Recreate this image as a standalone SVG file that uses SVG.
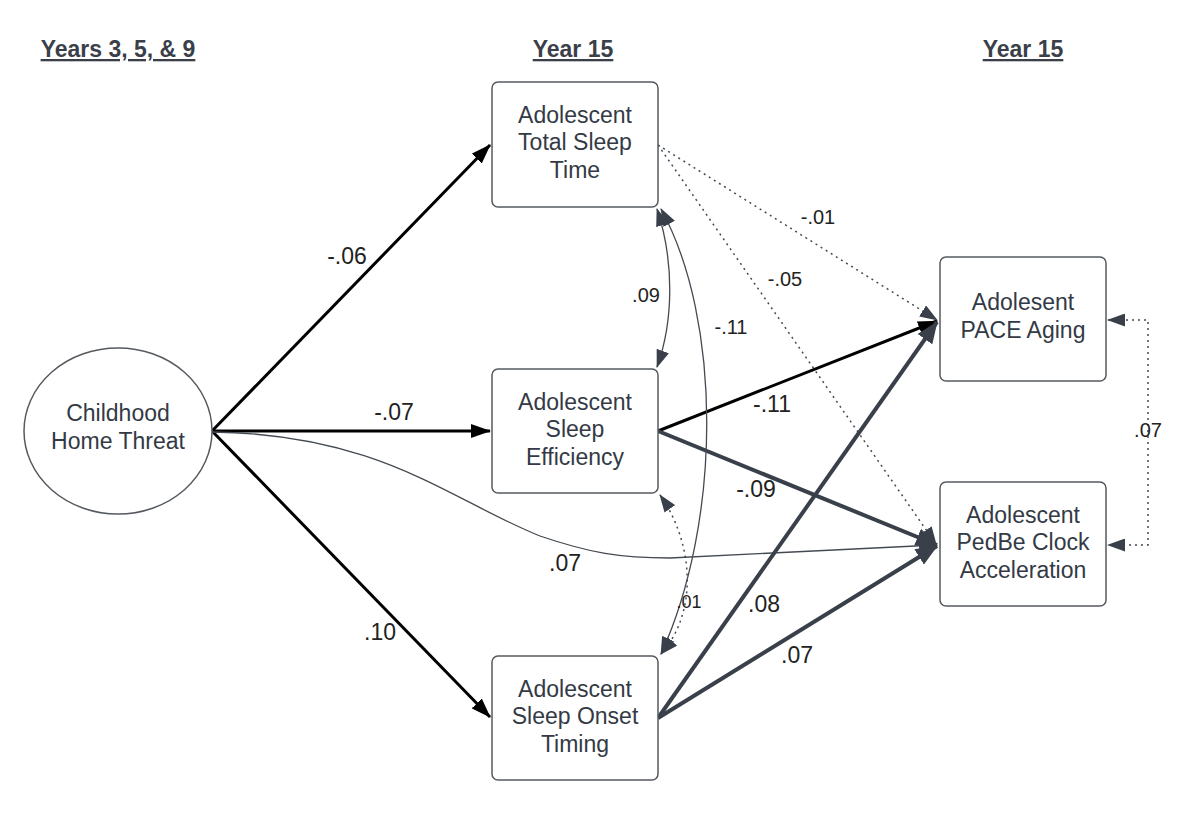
<svg xmlns="http://www.w3.org/2000/svg" width="1200" height="817" viewBox="0 0 1200 817">
<style>
.node rect{fill:#fff;stroke:#555a60;stroke-width:1.5}
.node ellipse{fill:#fff;stroke:#555a60;stroke-width:1.5}
.nt{font-family:"Liberation Sans",Arial,sans-serif;font-size:23px;fill:#333a45;text-anchor:middle}
.hd{font-family:"Liberation Sans",Arial,sans-serif;font-size:23px;font-weight:bold;fill:#3a3f4a;text-anchor:middle;text-decoration:underline}
.lb{font-family:"Liberation Sans",Arial,sans-serif;font-size:23px;fill:#222;text-anchor:middle}
.sm{font-family:"Liberation Sans",Arial,sans-serif;font-size:20px;fill:#222;text-anchor:middle}
.blk{fill:none;stroke:#000;stroke-width:3}
.gry{fill:none;stroke:#3a404a;stroke-width:4}
.thin{fill:none;stroke:#444a52;stroke-width:1.3}
.dot{fill:none;stroke:#444a52;stroke-width:1.5;stroke-dasharray:2 4}
</style>
<defs>
<marker id="aB" viewBox="0 0 20 14" refX="19" refY="7" markerWidth="20" markerHeight="14" markerUnits="userSpaceOnUse" orient="auto"><path d="M0,0 L20,7 L0,14 z" fill="#000"/></marker>
<marker id="aG" viewBox="0 0 22 18" refX="21" refY="9" markerWidth="22" markerHeight="18" markerUnits="userSpaceOnUse" orient="auto"><path d="M0,0 L22,9 L0,18 z" fill="#3a404a"/></marker>
<marker id="aS" viewBox="0 0 18 13" refX="17" refY="6.5" markerWidth="18" markerHeight="13" markerUnits="userSpaceOnUse" orient="auto-start-reverse"><path d="M0,0 L18,6.5 L0,13 z" fill="#3a404a"/></marker>
</defs>
<g id="headers">
<text class="hd" x="118" y="57">Years 3, 5, &amp; 9</text>
<text class="hd" x="573" y="57">Year 15</text>
<text class="hd" x="1023" y="57">Year 15</text>
</g>
<g id="connectors">
<path class="blk" d="M212,431 L490,145" marker-end="url(#aB)"/>
<path class="blk" d="M212,431 L490,431" marker-end="url(#aB)"/>
<path class="blk" d="M212,431 L490,717" marker-end="url(#aB)"/>
<path class="thin" d="M212,432 C380,434 450,500 540,536 C590,553 620,558 670,558 L936,545" marker-end="url(#aS)"/>
<path class="blk" d="M658,431 L937,321" marker-end="url(#aB)"/>
<path class="gry" d="M658,431 L937,545" marker-end="url(#aG)"/>
<path class="gry" d="M658,718 L937,322" marker-end="url(#aG)"/>
<path class="gry" d="M658,718 L937,546" marker-end="url(#aG)"/>
<path class="dot" d="M658,145 L937,320" marker-end="url(#aS)"/>
<path class="dot" d="M658,145 L936,544" marker-end="url(#aS)"/>
<path class="thin" d="M657,209 C674,260 674,320 657,367" marker-start="url(#aS)" marker-end="url(#aS)"/>
<path class="thin" d="M661,209 C722,320 722,520 661,654" marker-start="url(#aS)" marker-end="url(#aS)"/>
<path class="dot" d="M660,495 C692,540 700,610 661,654" marker-start="url(#aS)" marker-end="url(#aS)"/>
<path class="dot" d="M1108,320 L1148,320 L1148,545 L1108,545" marker-start="url(#aS)" marker-end="url(#aS)"/>
<text class="lb" x="347" y="264">-.06</text>
<text class="lb" x="394" y="420">-.07</text>
<text class="lb" x="380" y="640">.10</text>
<text class="lb" x="565" y="571">.07</text>
<text class="lb" x="772" y="412">-.11</text>
<text class="lb" x="756" y="497">-.09</text>
<text class="lb" x="764" y="612">.08</text>
<text class="lb" x="797" y="663">.07</text>
<text class="sm" x="818" y="224">-.01</text>
<text class="sm" x="785" y="286">-.05</text>
<text class="sm" x="646" y="302">.09</text>
<text class="sm" x="731" y="334">-.11</text>
<text class="sm" x="689" y="608" style="font-size:18px">.01</text>
<text class="sm" x="1148" y="437">.07</text>
</g>
<g id="childhood" class="node">
<ellipse cx="118" cy="431" rx="94" ry="83"/>
<text class="nt" x="118" y="421">Childhood</text>
<text class="nt" x="118" y="449">Home Threat</text>
</g>
<g id="tst" class="node">
<rect x="492" y="82" width="166" height="125" rx="6"/>
<text class="nt" x="575" y="123">Adolescent</text>
<text class="nt" x="575" y="150">Total Sleep</text>
<text class="nt" x="575" y="178">Time</text>
</g>
<g id="se" class="node">
<rect x="492" y="369" width="166" height="124" rx="6"/>
<text class="nt" x="575" y="410">Adolescent</text>
<text class="nt" x="575" y="437">Sleep</text>
<text class="nt" x="575" y="465">Efficiency</text>
</g>
<g id="sot" class="node">
<rect x="492" y="656" width="166" height="124" rx="6"/>
<text class="nt" x="575" y="697">Adolescent</text>
<text class="nt" x="575" y="724">Sleep Onset</text>
<text class="nt" x="575" y="752">Timing</text>
</g>
<g id="pace" class="node">
<rect x="940" y="257" width="166" height="124" rx="6"/>
<text class="nt" x="1023" y="310">Adolesent</text>
<text class="nt" x="1023" y="338">PACE Aging</text>
</g>
<g id="pedbe" class="node">
<rect x="940" y="482" width="166" height="124" rx="6"/>
<text class="nt" x="1023" y="523">Adolescent</text>
<text class="nt" x="1023" y="550">PedBe Clock</text>
<text class="nt" x="1023" y="578">Acceleration</text>
</g>
</svg>
